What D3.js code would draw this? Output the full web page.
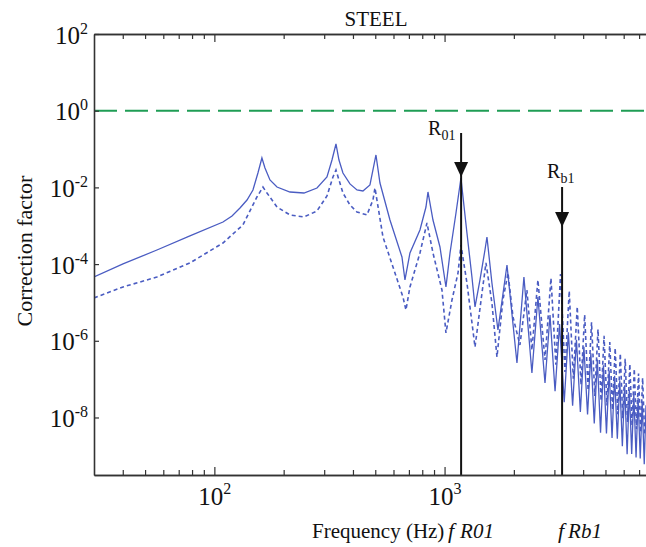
<!DOCTYPE html>
<html>
<head>
<meta charset="utf-8">
<script src="https://cdn.jsdelivr.net/npm/d3@7"></script>
<style>
  body { margin: 0; background: #fff; }
  svg { display: block; }
  text { font-family: "Liberation Serif", "Times New Roman", serif; fill: #111; }
</style>
</head>
<body>
<svg id="chart" width="646" height="547"></svg>
<script>
// Correction factor vs frequency, [frequency Hz, factor]
const solidSeries = [
  [30.0, 4.61e-5], [40.1, 1.01e-4], [56.3, 2.33e-4], [78.3, 5.41e-4], [109, 1.25e-3],
  [119.3, 1.80e-3], [129.2, 2.90e-3], [138.6, 4.69e-3], [147.1, 8.55e-3], [154.6, 2.37e-2],
  [160.9, 5.85e-2], [165.9, 3.21e-2], [174.4, 1.56e-2], [187.1, 1.02e-2], [213.1, 7.59e-3],
  [245.0, 7.14e-3], [279.1, 9.64e-3], [308.4, 1.87e-2], [324.3, 5.18e-2], [337.5, 0.1355],
  [347.8, 5.18e-2], [361.9, 2.37e-2], [388.2, 1.23e-2], [416.4, 8.55e-3], [442.0, 8.05e-3],
  [474.1, 1.16e-2], [503.5, 7.00e-2],
  [524.1, 1.30e-2], [579.2, 1.41e-3], [653.0, 1.53e-4], [672.9, 3.85e-5], [707.4, 1.95e-4],
  [781.8, 7.75e-4], [830.3, 3.08e-3], [847.1, 7.59e-3], [890.6, 1.41e-3], [955.0, 2.79e-4],
  [1014, 2.53e-5], [1056, 1.95e-4], [1121, 2.15e-3], [1178, 1.76e-2], [1251, 6.47e-4],
  [1315, 4.61e-5], [1356, 7.61e-6], [1425, 3.85e-5], [1498, 2.33e-4], [1528, 5.09e-4],
  [1606, 3.21e-5], [1706, 1.91e-6], [1867, 9.48e-5], [2063, 2.64e-7], [2212, 4.61e-5],
  [2396, 1.45e-7], [2544, 1.39e-5], [2731, 7.94e-8], [2871, 4.71e-6], [3020, 4.84e-8],
  [3160, 2.74e-6], [3310, 2.50e-8], [3450, 1.67e-6], [3600, 2.04e-8], [3740, 1.06e-6],
  [3890, 1.39e-8], [4030, 6.95e-7], [4180, 1.20e-8], [4320, 4.69e-7], [4470, 7.03e-9],
  [4610, 3.25e-7], [4760, 4.00e-9], [4900, 2.31e-7], [5050, 3.85e-9], [5190, 1.67e-7],
  [5340, 2.93e-9], [5480, 1.23e-7], [5630, 2.80e-9], [5770, 9.16e-8], [5920, 1.77e-9],
  [6060, 6.95e-8], [6210, 1.10e-9], [6350, 5.35e-8], [6500, 1.11e-9], [6640, 4.15e-8],
  [6790, 8.99e-10], [6930, 3.27e-8], [7080, 8.50e-10], [7220, 2.59e-8], [7370, 6.00e-10],
  [7499, 2.09e-8]
];

const dashedSeries = [
  [30.0, 1.31e-5], [40.1, 2.53e-5], [56.3, 4.61e-5], [78.3, 1.07e-4], [109, 3.55e-4],
  [133.1, 1.05e-3], [153.1, 5.62e-3], [162.6, 1.02e-2], [169.3, 7.14e-3], [187.1, 3.08e-3],
  [213.1, 1.91e-3], [245.0, 1.69e-3], [279.1, 2.43e-3], [308.4, 5.97e-3], [327.5, 1.87e-2],
  [337.5, 2.84e-2], [347.8, 1.56e-2], [361.9, 7.14e-3], [388.2, 3.48e-3], [416.4, 2.28e-3],
  [460.1, 1.91e-3], [488.6, 4.69e-3], [498.6, 9.64e-3],
  [540.0, 5.09e-4], [596.9, 8.40e-5], [659.6, 1.39e-5], [679.6, 6.36e-6], [707.4, 2.53e-5],
  [781.8, 1.95e-4], [838.6, 1.18e-3], [890.6, 1.95e-4], [974.3, 2.11e-5], [1014, 1.60e-6],
  [1077, 1.16e-5], [1144, 5.86e-5], [1178, 3.15e-4], [1251, 3.21e-5], [1356, 6.89e-7],
  [1454, 1.76e-5], [1513, 1.07e-4], [1606, 9.68e-6], [1689, 3.78e-7], [1793, 1.16e-5],
  [1886, 5.86e-5], [1983, 4.18e-6], [2125, 7.77e-7], [2279, 2.11e-5], [2396, 5.75e-7],
  [2544, 3.85e-5], [2731, 3.16e-7], [2899, 4.32e-5], [3045, 2.38e-7], [3190, 5.50e-5],
  [3335, 1.53e-7], [3480, 2.00e-5], [3625, 1.03e-7], [3770, 7.76e-6], [3915, 7.11e-8],
  [4060, 4.78e-6], [4205, 5.05e-8], [4350, 3.04e-6], [4495, 3.66e-8], [4640, 2.00e-6],
  [4785, 2.71e-8], [4930, 1.34e-6], [5075, 2.05e-8], [5220, 9.23e-7], [5365, 1.57e-8],
  [5510, 6.47e-7], [5655, 1.22e-8], [5800, 4.63e-7], [5945, 9.57e-9], [6090, 3.37e-7],
  [6235, 7.62e-9], [6380, 2.48e-7], [6525, 6.12e-9], [6670, 1.86e-7], [6815, 4.98e-9],
  [6960, 1.41e-7], [7105, 4.06e-9], [7250, 1.08e-7], [7400, 3.35e-9]
];

const unityLevel = 1;
const yTickExponents = [2, 0, -2, -4, -6, -8];
const xMajorTicks = [100, 1000];
const xMinorTicks = [40, 50, 60, 70, 80, 90, 200, 300, 400, 500, 600, 700, 800, 900,
                     2000, 3000, 4000, 5000, 6000, 7000];

// Resonance markers: frequency, arrow tip level, arrow top level
const resonances = [
  { name: "R", sub: "01", freq: 1180, tip: 1.87e-2, top: 0.262 },
  { name: "R", sub: "b1", freq: 3240, tip: 9.3e-4, top: 1.02e-2 }
];

const titleText = "STEEL";
const yLabelText = "Correction factor";
const xLabelText = "Frequency (Hz)";

// ---- layout ----
const plot = { left: 94, right: 646, top: 34, bottom: 475 };
const blue = "#4a5cc2";
const green = "#1f9d55";
const axisColor = "#333";

const svg = d3.select("#chart");

const x = d3.scaleLog().domain([30, 7500]).range([plot.left, plot.right]);
const y = d3.scaleLog().domain([Math.pow(10, -9.5), 100]).range([plot.bottom, plot.top]);

svg.append("defs").append("clipPath").attr("id", "plotClip")
  .append("rect")
  .attr("x", plot.left).attr("y", plot.top)
  .attr("width", plot.right - plot.left).attr("height", plot.bottom - plot.top);

const g = svg.append("g").attr("clip-path", "url(#plotClip)");

// unity reference line
g.append("line")
  .attr("x1", plot.left).attr("x2", plot.right)
  .attr("y1", y(unityLevel)).attr("y2", y(unityLevel))
  .attr("stroke", green).attr("stroke-width", 2)
  .attr("stroke-dasharray", "23,8");

const line = d3.line().x(d => x(d[0])).y(d => y(d[1]));

g.append("path").datum(dashedSeries)
  .attr("d", line).attr("fill", "none")
  .attr("stroke", blue).attr("stroke-width", 1.6)
  .attr("stroke-dasharray", "4,3");

g.append("path").datum(solidSeries)
  .attr("d", line).attr("fill", "none")
  .attr("stroke", blue).attr("stroke-width", 1.3);

// resonance lines with arrows and labels
const labelOffsets = [{ dx: -33, dy: 2 }, { dx: -15, dy: -9 }];
const footOffsets = [{ f: -13, r: -1 }, { f: -4, r: 6 }];
resonances.forEach((r, i) => {
  const xf = x(r.freq);
  const tipY = y(r.tip);
  svg.append("line")
    .attr("x1", xf).attr("x2", xf)
    .attr("y1", y(r.top)).attr("y2", plot.bottom)
    .attr("stroke", "#111").attr("stroke-width", 2);
  svg.append("path")
    .attr("d", `M${xf - 7},${tipY - 15}L${xf + 7},${tipY - 15}L${xf},${tipY}Z`)
    .attr("fill", "#111");

  const lab = svg.append("text")
    .attr("x", xf + labelOffsets[i].dx)
    .attr("y", y(r.top) + labelOffsets[i].dy)
    .attr("font-size", 20);
  lab.append("tspan").text(r.name);
  lab.append("tspan").attr("font-size", 14).attr("dy", 5).text(r.sub);

  svg.append("text")
    .attr("x", xf + footOffsets[i].f).attr("y", 538)
    .attr("font-size", 22).attr("font-style", "italic").text("f");
  svg.append("text")
    .attr("x", xf + footOffsets[i].r).attr("y", 538)
    .attr("font-size", 21).attr("font-style", "italic").text(r.name + r.sub);
});

// ---- axes ----
function powLabel(sel, superSize, superDy) {
  sel.each(function (d) {
    const t = d3.select(this);
    const e = Math.round(Math.log10(d));
    t.text(null);
    t.append("tspan").text("10");
    t.append("tspan").attr("font-size", superSize).attr("dy", superDy).text(e);
  });
}

function styleAxis(ax) {
  ax.select(".domain").attr("stroke", axisColor).attr("stroke-width", 1.6);
  ax.selectAll(".tick line").attr("stroke", axisColor).attr("stroke-width", 1.2);
}

// left axis
const yAxisG = svg.append("g").attr("transform", `translate(${plot.left},0)`)
  .call(d3.axisLeft(y).tickValues(yTickExponents.map(e => Math.pow(10, e)))
    .tickSize(-5).tickSizeOuter(0).tickPadding(6));
styleAxis(yAxisG);
yAxisG.selectAll(".tick text")
  .attr("font-size", 25).attr("dy", null).attr("y", 9)
  .attr("fill", "#111").attr("text-anchor", "end")
  .call(powLabel, 16, -10);

// bottom axis: major with labels, minor without
const xAxisG = svg.append("g").attr("transform", `translate(0,${plot.bottom})`)
  .call(d3.axisBottom(x).tickValues(xMajorTicks).tickSize(-8).tickSizeOuter(0));
styleAxis(xAxisG);
xAxisG.selectAll(".tick text")
  .attr("font-size", 25).attr("dy", null).attr("y", 30)
  .attr("fill", "#111").attr("text-anchor", "middle")
  .call(powLabel, 16, -11);

const xMinorG = svg.append("g").attr("transform", `translate(0,${plot.bottom})`)
  .call(d3.axisBottom(x).tickValues(xMinorTicks).tickSize(-5).tickSizeOuter(0).tickFormat(""));
styleAxis(xMinorG);

// top axis
const xTopG = svg.append("g").attr("transform", `translate(0,${plot.top})`)
  .call(d3.axisTop(x).tickValues(xMajorTicks).tickSize(-8).tickSizeOuter(0).tickFormat(""));
styleAxis(xTopG);
const xTopMinorG = svg.append("g").attr("transform", `translate(0,${plot.top})`)
  .call(d3.axisTop(x).tickValues(xMinorTicks).tickSize(-5).tickSizeOuter(0).tickFormat(""));
styleAxis(xTopMinorG);

// titles
svg.append("text").attr("x", 376).attr("y", 26)
  .attr("text-anchor", "middle").attr("font-size", 21).text(titleText);

svg.append("text")
  .attr("transform", "translate(32,251) rotate(-90)")
  .attr("text-anchor", "middle").attr("font-size", 22).text(yLabelText);

svg.append("text").attr("x", 312).attr("y", 538)
  .attr("font-size", 21).text(xLabelText);
</script>
</body>
</html>
